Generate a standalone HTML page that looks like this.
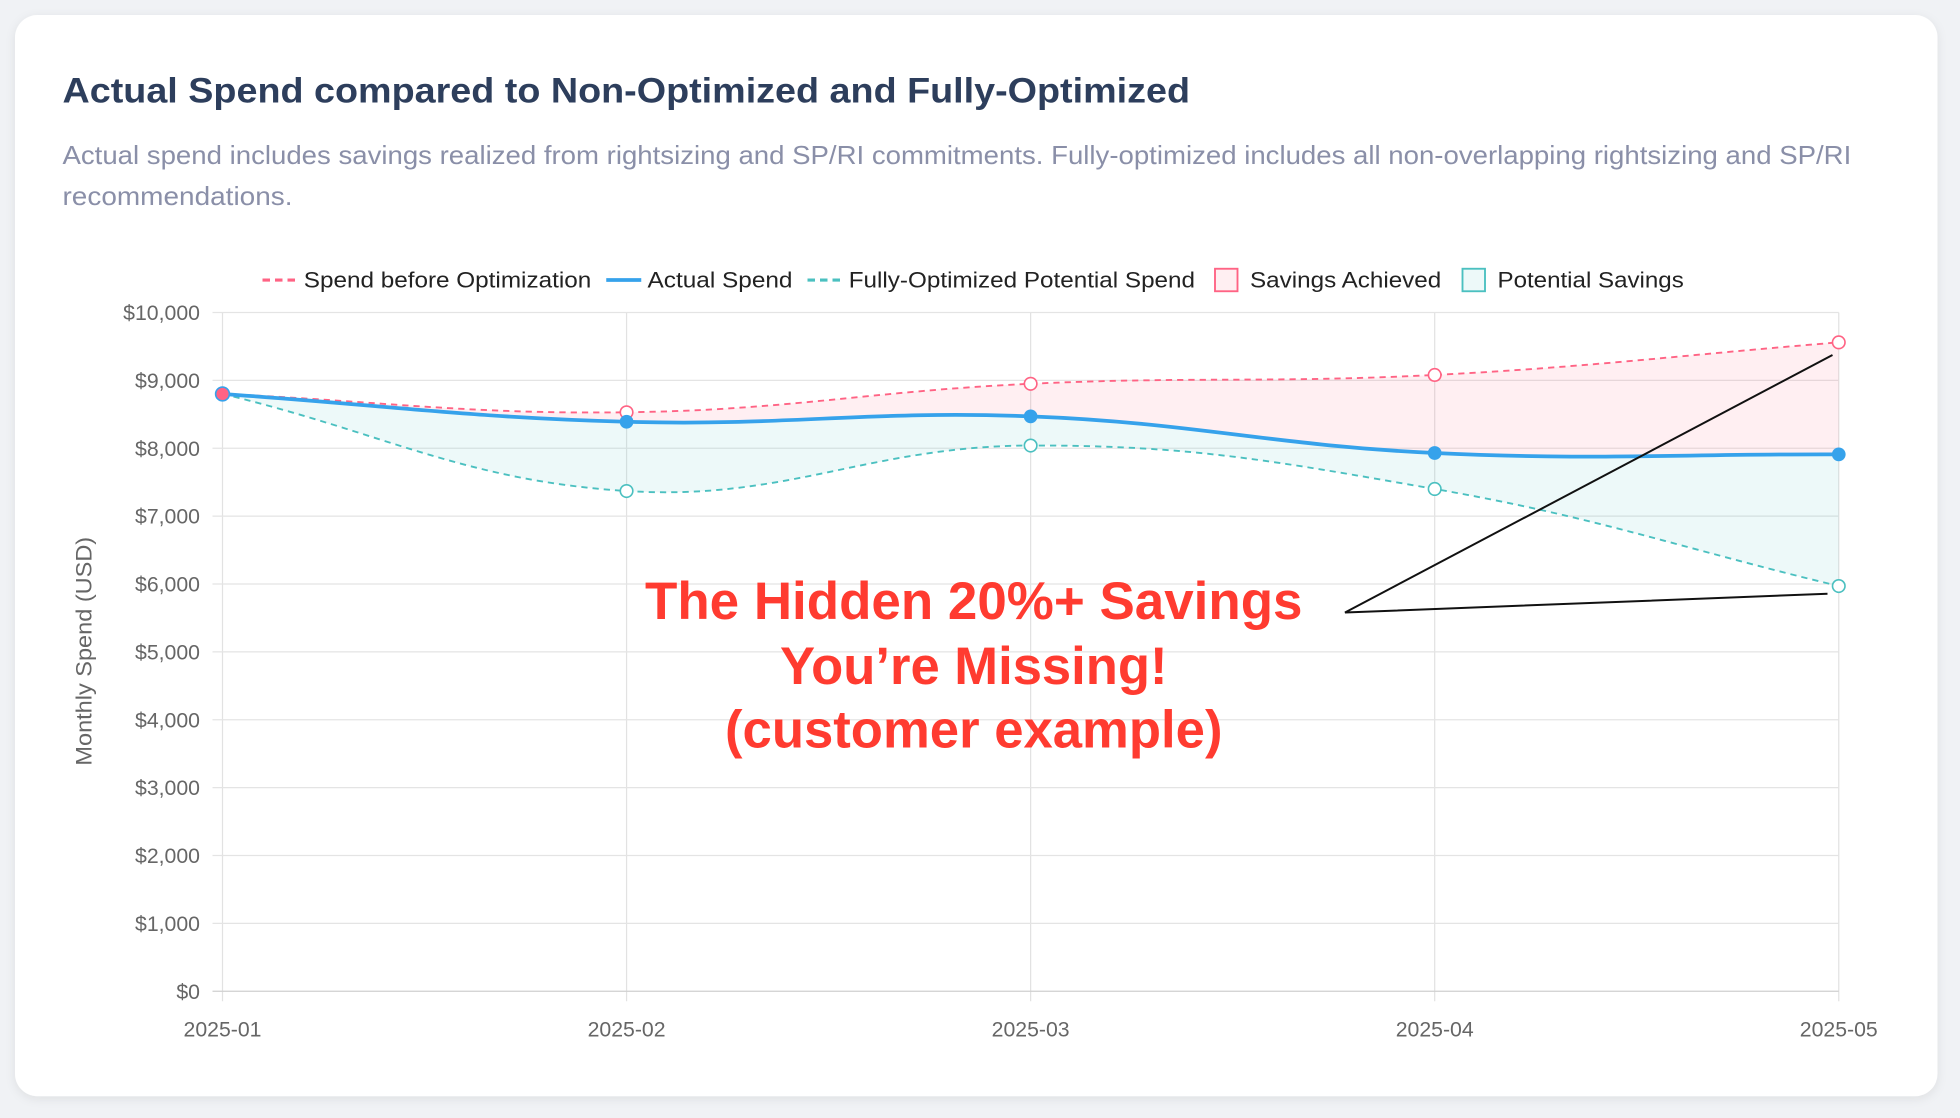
<!DOCTYPE html>
<html><head><meta charset="utf-8"><style>
html,body{margin:0;padding:0;background:#f0f2f5;}
svg{display:block;}
</style></head><body>
<svg id="s" width="1960" height="1118" viewBox="0 0 1568 894.4" preserveAspectRatio="none" xmlns="http://www.w3.org/2000/svg" font-family="Liberation Sans, Arial, sans-serif">
<defs><filter id="sh" x="-5%" y="-5%" width="110%" height="110%"><feDropShadow dx="0" dy="2" stdDeviation="4" flood-color="#000" flood-opacity="0.08"/></filter></defs>
<rect x="0" y="0" width="1568" height="894.4" fill="#f0f2f5"/>
<rect x="12" y="12" width="1538" height="865" rx="18" fill="#fff" filter="url(#sh)"/>
<text x="50" y="82" font-size="28" font-weight="bold" fill="#2d3e5c" textLength="902" lengthAdjust="spacingAndGlyphs">Actual Spend compared to Non-Optimized and Fully-Optimized</text>
<text x="50" y="131" font-size="21" fill="#8a8fa8" textLength="1431" lengthAdjust="spacingAndGlyphs">Actual spend includes savings realized from rightsizing and SP/RI commitments. Fully-optimized includes all non-overlapping rightsizing and SP/RI</text>
<text x="50" y="164" font-size="21" fill="#8a8fa8" textLength="184" lengthAdjust="spacingAndGlyphs">recommendations.</text>
<g font-size="18" fill="#222">
<line x1="210" y1="224" x2="238" y2="224" stroke="#ff6384" stroke-width="2.5" stroke-dasharray="6,4"/>
<text x="243" y="230" textLength="230" lengthAdjust="spacingAndGlyphs">Spend before Optimization</text>
<line x1="485" y1="224" x2="513" y2="224" stroke="#36a2eb" stroke-width="3"/>
<text x="518" y="230" textLength="116" lengthAdjust="spacingAndGlyphs">Actual Spend</text>
<line x1="646" y1="224" x2="674" y2="224" stroke="#4bc0c0" stroke-width="2.5" stroke-dasharray="6,4"/>
<text x="679" y="230" textLength="277" lengthAdjust="spacingAndGlyphs">Fully-Optimized Potential Spend</text>
<rect x="972" y="215" width="18" height="18" fill="rgba(255,99,132,0.1)" stroke="#ff6384" stroke-width="1.5"/>
<text x="1000" y="230" textLength="153" lengthAdjust="spacingAndGlyphs">Savings Achieved</text>
<rect x="1170" y="215" width="18" height="18" fill="rgba(75,192,192,0.1)" stroke="#4bc0c0" stroke-width="1.5"/>
<text x="1198" y="230" textLength="149" lengthAdjust="spacingAndGlyphs">Potential Savings</text>
</g>
<g id="grid"></g>
<g id="series"></g>
<text transform="translate(73,521) rotate(-90)" text-anchor="middle" font-size="17.5" fill="#666" textLength="183" lengthAdjust="spacingAndGlyphs">Monthly Spend (USD)</text>
<g font-size="42" font-weight="bold" fill="#ff3b30" text-anchor="middle">
<text x="779" y="495" textLength="526" lengthAdjust="spacingAndGlyphs">The Hidden 20%+ Savings</text>
<text x="779" y="547" textLength="310" lengthAdjust="spacingAndGlyphs">You’re Missing!</text>
<text x="779" y="598" textLength="398" lengthAdjust="spacingAndGlyphs">(customer example)</text>
</g>
<polyline points="1466,284 1076,490 1462,475" fill="none" stroke="#111" stroke-width="1.6"/>
</svg>
<script>
var NS="http://www.w3.org/2000/svg";
function el(t,a,p,txt){var e=document.createElementNS(NS,t);for(var k in a)e.setAttribute(k,a[k]);if(txt!==undefined)e.textContent=txt;p.appendChild(e);return e;}
var g=document.getElementById('grid'),S=document.getElementById('series');
var X0=178,X1=1471,Y0=793,Y10=250;
function Y(v){return Y0-(Y0-Y10)*v/10000;}
var xs=[];for(var i=0;i<5;i++)xs.push(X0+(X1-X0)*i/4);
for(var i=0;i<5;i++){el('line',{x1:xs[i],y1:Y10,x2:xs[i],y2:Y0+8,stroke:'#e2e2e2','stroke-width':1},g);
el('text',{x:xs[i],y:829,'text-anchor':'middle','font-size':17,fill:'#666'},g,'2025-0'+(i+1));}
for(var v=0;v<=10000;v+=1000){var y=Y(v);el('line',{x1:X0-8,y1:y,x2:X1,y2:y,stroke:v==0?'#cfcfcf':'#e4e4e4','stroke-width':1},g);
el('text',{x:160,y:y+6,'text-anchor':'end','font-size':17,fill:'#666'},g,'$'+v.toLocaleString('en-US'));}
var A=[8800,8530,8950,9080,9560],B=[8800,8390,8470,7930,7910],C=[8800,7370,8040,7400,5970];
function pts(d){return d.map(function(v,i){return [xs[i],Y(v)];});}
function path(p){var t=0.4,c=[];for(var i=0;i<p.length;i++){var pr=p[Math.max(i-1,0)],cu=p[i],nx=p[Math.min(i+1,p.length-1)];
var d01=Math.hypot(cu[0]-pr[0],cu[1]-pr[1]),d12=Math.hypot(nx[0]-cu[0],nx[1]-cu[1]);var s01=d01/(d01+d12)||0,s12=d12/(d01+d12)||0;
var fa=t*s01,fb=t*s12;c.push({p:[cu[0]-fa*(nx[0]-pr[0]),cu[1]-fa*(nx[1]-pr[1])],n:[cu[0]+fb*(nx[0]-pr[0]),cu[1]+fb*(nx[1]-pr[1])]});}
var s='';for(var i=1;i<p.length;i++){s+=' C'+c[i-1].n[0]+','+c[i-1].n[1]+' '+c[i].p[0]+','+c[i].p[1]+' '+p[i][0]+','+p[i][1];}
return {f:'M'+p[0][0]+','+p[0][1]+s,seg:s};}
function rev(p){return path(p.slice().reverse());}
var pa=pts(A),pb=pts(B),pc=pts(C);
var fA=path(pa),fB=path(pb),fC=path(pc),rB=rev(pb),rC=rev(pc);
el('path',{d:fA.f+' L'+pb[4][0]+','+pb[4][1]+rB.seg+'Z',fill:'rgba(255,99,132,0.1)'},S);
el('path',{d:fB.f+' L'+pc[4][0]+','+pc[4][1]+rC.seg+'Z',fill:'rgba(75,192,192,0.1)'},S);
el('path',{d:fC.f,fill:'none',stroke:'#4bc0c0','stroke-width':1.5,'stroke-dasharray':'5,4'},S);
el('path',{d:fA.f,fill:'none',stroke:'#ff6384','stroke-width':1.5,'stroke-dasharray':'5,4'},S);
el('path',{d:fB.f,fill:'none',stroke:'#36a2eb','stroke-width':3},S);
pc.forEach(function(p){el('circle',{cx:p[0],cy:p[1],r:5,fill:'#fff',stroke:'#4bc0c0','stroke-width':1.3},S);});
pa.forEach(function(p){el('circle',{cx:p[0],cy:p[1],r:5,fill:'#fff',stroke:'#ff6384','stroke-width':1.3},S);});
pb.forEach(function(p,i){if(i>0)el('circle',{cx:p[0],cy:p[1],r:5.5,fill:'#36a2eb'},S);});
el('circle',{cx:pb[0][0],cy:pb[0][1],r:5.5,fill:'#ff6384',stroke:'#36a2eb','stroke-width':1.3},S);
</script>
</body></html>
